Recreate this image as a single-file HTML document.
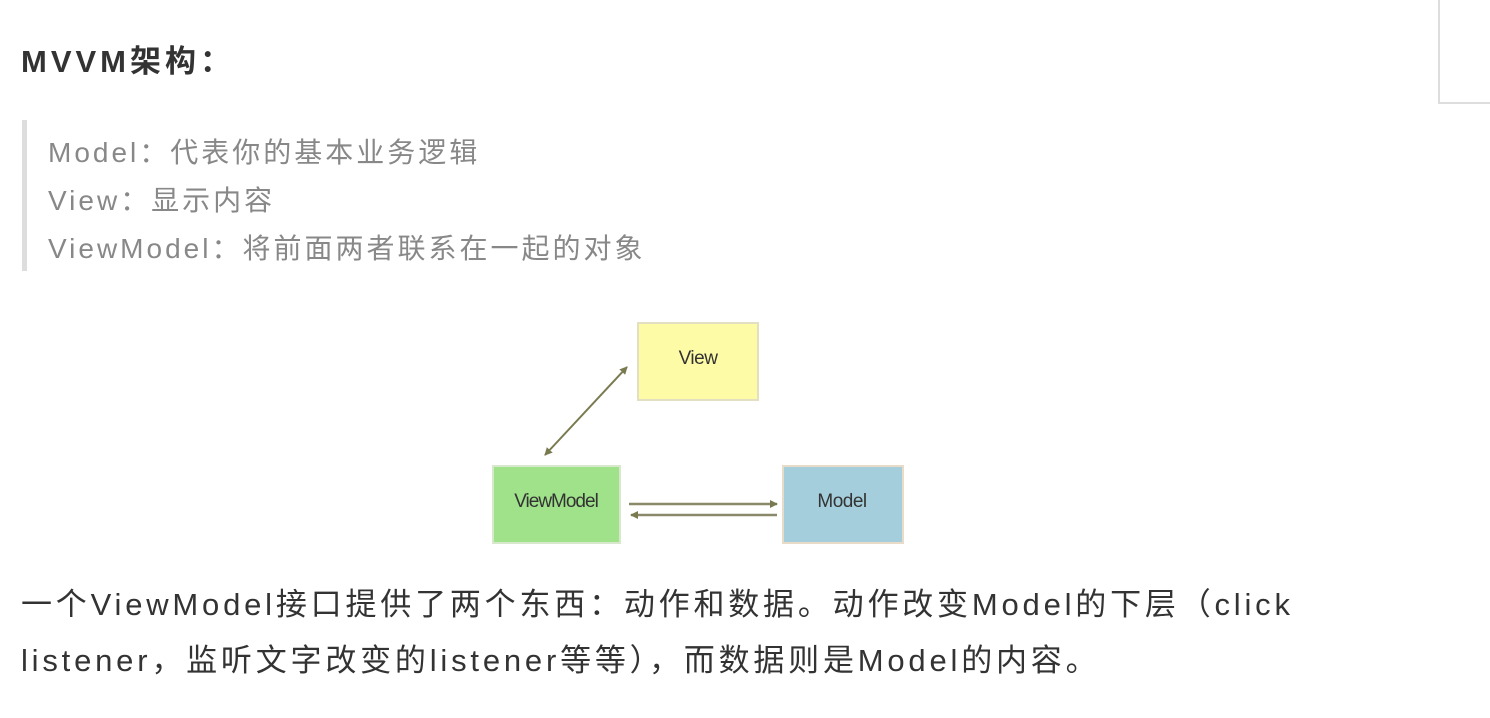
<!DOCTYPE html>
<html><head><meta charset="utf-8"><style>
body{margin:0;width:1490px;height:718px;background:#fff;position:relative;overflow:hidden;font-family:"Liberation Sans","Noto Sans CJK SC",sans-serif;}
.a{position:absolute;white-space:nowrap;}
</style></head><body>
<div class="a" style="left:1438px;top:-2px;width:60px;height:104px;border-left:2px solid #ddd;border-bottom:2px solid #ddd;"></div>
<div class="a" style="left:21px;top:44px;font-size:31px;letter-spacing:4px;font-weight:bold;color:#333;line-height:36px;">MVVM架构：</div>
<div class="a" style="left:22px;top:120px;width:5px;height:151px;background:#ddd;"></div>
<div class="a" style="left:48px;top:129px;font-size:28px;letter-spacing:3px;color:#888;line-height:48px;">Model：代表你的基本业务逻辑<br>View：显示内容<br>ViewModel：将前面两者联系在一起的对象</div>
<svg class="a" style="left:0;top:0" width="1490" height="718">
<defs>
<marker id="m" markerWidth="8" markerHeight="8" refX="7" refY="4" orient="auto-start-reverse" markerUnits="userSpaceOnUse"><path d="M0,0 L8,4 L0,8 z" fill="#7a7a50"/></marker>
</defs>
<rect x="638" y="323" width="120" height="77" fill="#fdfba6" stroke="#e2e0c0" stroke-width="2"/>
<rect x="493" y="466" width="127" height="77" fill="#9fe28a" stroke="#d8e8cc" stroke-width="2"/>
<rect x="783" y="466" width="120" height="77" fill="#a4cedc" stroke="#e8dcc8" stroke-width="2"/>
<text x="698" y="364" font-size="19" text-anchor="middle" fill="#333" font-family="Liberation Sans,sans-serif" letter-spacing="-0.5">View</text>
<text x="556" y="507" font-size="19" text-anchor="middle" fill="#333" font-family="Liberation Sans,sans-serif" letter-spacing="-1">ViewModel</text>
<text x="842" y="507" font-size="19" text-anchor="middle" fill="#333" font-family="Liberation Sans,sans-serif" letter-spacing="-0.5">Model</text>
<line x1="627" y1="367" x2="545" y2="455" stroke="#7a7a50" stroke-width="2" marker-start="url(#m)" marker-end="url(#m)"/>
<line x1="629" y1="504" x2="777" y2="504" stroke="#8a8a6a" stroke-width="2.5" marker-end="url(#m)"/>
<line x1="777" y1="515" x2="631" y2="515" stroke="#8a8a6a" stroke-width="2.5" marker-end="url(#m)"/>
</svg>
<div class="a" style="left:21px;top:577px;font-size:31px;letter-spacing:3.8px;color:#333;line-height:56px;">一个ViewModel接口提供了两个东西：动作和数据。动作改变Model的下层（click<br>listener，监听文字改变的listener等等），而数据则是Model的内容。</div>
</body></html>
